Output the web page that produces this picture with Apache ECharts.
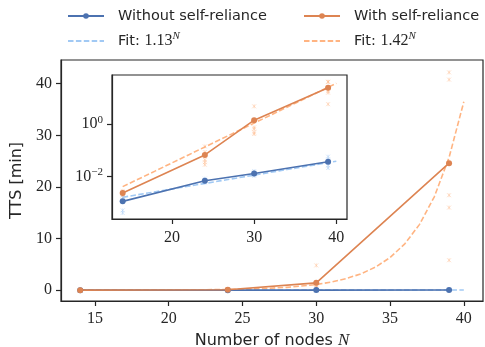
<!DOCTYPE html>
<html>
<head>
<meta charset="utf-8">
<script src="https://cdn.jsdelivr.net/npm/echarts@6/dist/echarts.min.js"></script>
<style>
html,body{margin:0;padding:0;background:#fff}
#chart{width:485px;height:347px}
</style>
</head>
<body>
<div id="chart"></div>
<script>
// number of nodes N measured
const nodes = [14, 24, 30, 39];
// mean TTS in minutes
const meanWithout = [0.00111, 0.00686, 0.0130, 0.0363];
const meanWith = [0.00232, 0.0662, 1.42, 24.6];
// single runs (faint crosses)
const runsWithout = [
    [0.0005, 0.0004, 0.0012, 0.0016, 0.0019],
    [0.0058, 0.0062, 0.0068, 0.0073, 0.0082],
    [0.0105, 0.0118, 0.0128, 0.0140, 0.0159],
    [0.057, 0.045, 0.033, 0.026, 0.021]
];
const runsWith = [
    [0.0019, 0.0021, 0.0023, 0.0025, 0.0028],
    [0.14, 0.085, 0.043, 0.035, 0.028],
    [4.8, 0.75, 0.65, 0.48, 0.42],
    [42.2, 40.8, 18.4, 16.0, 5.8]
];
// fitted curves, read at these N
const fitN = [14, 18, 22, 24, 26, 28, 30, 31, 32, 33, 34, 35, 36, 37, 38, 39, 40];
const fitWithout = [0.00159, 0.00259, 0.00422, 0.00538, 0.00688, 0.00878, 0.0112, 0.0127, 0.0143,
    0.0162, 0.0183, 0.0206, 0.0233, 0.0263, 0.0298, 0.0336, 0.038];
const fitWith = [0.00406, 0.0163, 0.0663, 0.134, 0.269, 0.543, 1.095, 1.555, 2.21,
    3.14, 4.45, 6.32, 8.98, 12.75, 18.1, 25.7, 36.5];
const xTicks = [15, 20, 25, 30, 35, 40];
const yTicks = [0, 10, 20, 30, 40];
const insetXTicks = [20, 30, 40];
const insetYTicks = [0.01, 1];

const BLUE = '#4c72b0', ORANGE = '#dd8452';
const LBLUE = '#a1c9f4', LORANGE = '#ffb482';
const INK = '#262626';
const SERIF = '"Liberation Serif", "DejaVu Serif", serif';
const SANS = '"DejaVu Sans", sans-serif';

const zip = (xs, ys) => xs.map((x, i) => [x, ys[i]]);
const flatRuns = runs => {
    let out = [];
    runs.forEach((r, i) => r.forEach(v => out.push([nodes[i], v])));
    return out;
};

const chart = echarts.init(document.getElementById('chart'));

function axisCommon(ticks, margin) {
    return {
        axisLine: {show: true, onZero: false, lineStyle: {color: INK, width: 1.2}},
        axisTick: {show: true, length: 5, customValues: ticks, lineStyle: {color: INK, width: 1.2}},
        splitLine: {show: false},
        axisLabel: {customValues: ticks, color: INK, fontFamily: SERIF, fontSize: 16, margin: margin}
    };
}

// one set of series per grid (0 = main linear, 1 = log inset)
function seriesFor(idx) {
    const base = {xAxisIndex: idx, yAxisIndex: idx, z: idx ? 10 : 2};
    const crosses = (name, runs, color) => Object.assign({}, base, {
        name: name, type: 'scatter', data: flatRuns(runs),
        symbol: 'path://M0,0L10,10M10,0L0,10M5,0L5,10',
        symbolSize: 4,
        itemStyle: {color: 'none', borderColor: color, borderWidth: 0.8, opacity: 0.5},
        silent: true
    });
    const fit = (name, data, color) => Object.assign({}, base, {
        name: name, type: 'line', data: zip(fitN, data), showSymbol: false, symbol: 'none',
        lineStyle: {color: color, width: 1.6, type: [5.5, 2.4]},
        itemStyle: {color: color}
    });
    const mean = (name, data, color) => Object.assign({}, base, {
        name: name, type: 'line', data: zip(nodes, data), symbol: 'circle', symbolSize: 6,
        lineStyle: {color: color, width: 1.6}, itemStyle: {color: color}
    });
    return [
        crosses('runsWithout' + idx, runsWithout, LBLUE),
        crosses('runsWith' + idx, runsWith, LORANGE),
        fit('Fit: 1.13', fitWithout, LBLUE),
        fit('Fit: 1.42', fitWith, LORANGE),
        mean('Without self-reliance', meanWithout, BLUE),
        mean('With self-reliance', meanWith, ORANGE)
    ];
}

const legendRich = {
    s: {fontFamily: SANS, fontSize: 14.5, color: INK},
    n: {fontFamily: SERIF, fontSize: 16, color: INK},
    sup: {fontFamily: SERIF, fontStyle: 'italic', fontSize: 11, color: INK, padding: [0, 0, 9, 0]}
};
const legendFmt = name => {
    if (name.indexOf('Fit: ') === 0) return '{s|Fit: }{n|' + name.slice(5) + '}{sup|N}';
    return '{s|' + name + '}';
};
const legendBase = {
    orient: 'vertical', top: 6, padding: 0, itemWidth: 36, itemHeight: 7, itemGap: 5,
    formatter: legendFmt, selectedMode: false,
    textStyle: {rich: legendRich, lineHeight: 20, padding: [0, 0, 0, 9]}
};
// dashed fit entries: keep the line, hide the marker
const noMarker = {color: 'rgba(0,0,0,0)', borderWidth: 0, opacity: 0};

const option = {
    animation: false,
    legend: [
        Object.assign({}, legendBase, {left: 67,
            data: ['Without self-reliance', {name: 'Fit: 1.13', itemStyle: noMarker}]}),
        Object.assign({}, legendBase, {left: 303,
            data: ['With self-reliance', {name: 'Fit: 1.42', itemStyle: noMarker}]})
    ],
    grid: [
        {left: 61, right: 2, top: 60, bottom: 46, show: true, borderColor: INK, borderWidth: 1.2,
            outerBoundsMode: 'none'},
        {left: 112, top: 75, width: 235, height: 144, show: true, borderColor: INK, borderWidth: 1.2,
            backgroundColor: '#fff', z: 8, outerBoundsMode: 'none'}
    ],
    xAxis: [
        Object.assign(axisCommon(xTicks, 10), {
            type: 'value', gridIndex: 0, min: 12.7, max: 41.3,
            name: 'Number of nodes {i|N}', nameLocation: 'middle', nameGap: 29,
            nameTextStyle: {fontFamily: SANS, fontSize: 16, color: INK,
                rich: {i: {fontFamily: SERIF, fontStyle: 'italic', fontSize: 17, color: INK}}}
        }),
        Object.assign(axisCommon(insetXTicks, 11), {
            type: 'value', gridIndex: 1, min: 12.7, max: 41.3, z: 9
        })
    ],
    yAxis: [
        Object.assign(axisCommon(yTicks, 9), {
            type: 'value', gridIndex: 0, min: -2.1, max: 44.6,
            name: 'TTS [min]', nameLocation: 'middle', nameGap: 30,
            nameTextStyle: {fontFamily: SANS, fontSize: 16, color: INK}
        }),
        Object.assign(axisCommon(insetYTicks, 9), {
            type: 'log', logBase: 10, gridIndex: 1, min: Math.pow(10, -3.63), max: Math.pow(10, 1.88), z: 9
        })
    ],
    series: seriesFor(0).concat(seriesFor(1))
};

option.yAxis[1].axisLabel = Object.assign({}, option.yAxis[1].axisLabel, {
    formatter: v => {
        const e = Math.round(Math.log10(v));
        return '{b|10}{e|' + (e < 0 ? '\u2212' + (-e) : e) + '}';
    },
    rich: {
        b: {fontFamily: SERIF, fontSize: 16, color: INK},
        e: {fontFamily: SERIF, fontSize: 11, color: INK, padding: [0, 0, 8, 0]}
    }
});

chart.setOption(option);
</script>
</body>
</html>
